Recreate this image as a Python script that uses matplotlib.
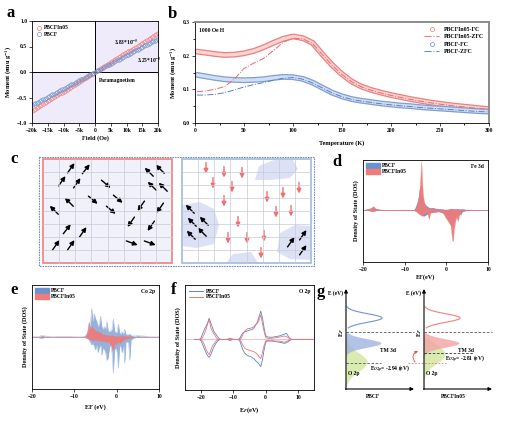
import numpy as np
import matplotlib
matplotlib.use('Agg')
import matplotlib.pyplot as plt
from matplotlib.lines import Line2D
from matplotlib.patches import Patch, Rectangle, Polygon, FancyArrowPatch

plt.rcParams['font.family'] = ['Liberation Serif', 'DejaVu Serif']
plt.rcParams['font.weight'] = 'bold'
plt.rcParams['axes.labelweight'] = 'bold'
plt.rcParams['mathtext.fontset'] = 'stix'
plt.rcParams['xtick.labelsize'] = 4
plt.rcParams['ytick.labelsize'] = 4
plt.rcParams['axes.labelsize'] = 4.5
plt.rcParams['xtick.major.size'] = 2
plt.rcParams['ytick.major.size'] = 2
plt.rcParams['xtick.major.width'] = 0.5
plt.rcParams['ytick.major.width'] = 0.5
plt.rcParams['xtick.minor.size'] = 1.2
plt.rcParams['ytick.minor.size'] = 1.2
plt.rcParams['xtick.major.pad'] = 1.5
plt.rcParams['ytick.major.pad'] = 1.5
plt.rcParams['axes.linewidth'] = 0.6

RED = '#ef7b7b'
BLUE = '#6a92cc'

# ---- a: M-H loops (linear, paramagnetic) ----
field = np.arange(-20000, 20001, 500)
chi_in05 = 3.83e-5
chi_pbcf = 3.25e-5

# ---- b: ZFC/FC curves ----
temp = [2, 10, 20, 30, 40, 50, 60, 70, 80, 90, 100, 110, 120, 130, 140, 150, 160,
        170, 180, 190, 200, 210, 220, 230, 240, 250, 260, 270, 280, 290, 300]
in05_fc = [0.212, 0.209, 0.205, 0.202, 0.203, 0.207, 0.214, 0.225, 0.238, 0.250, 0.257,
           0.252, 0.238, 0.204, 0.172, 0.145, 0.123, 0.108, 0.098, 0.090, 0.083, 0.077,
           0.071, 0.066, 0.061, 0.057, 0.053, 0.050, 0.047, 0.044, 0.041]
in05_zfc = [0.093, 0.095, 0.100, 0.108, 0.130, 0.162, 0.178, 0.192, 0.215, 0.240, 0.252,
            0.250, 0.236, 0.203, 0.171, 0.144, 0.122, 0.107, 0.097, 0.089, 0.082, 0.076,
            0.070, 0.065, 0.060, 0.056, 0.052, 0.049, 0.046, 0.043, 0.040]
pbcf_fc = [0.143, 0.139, 0.134, 0.130, 0.128, 0.127, 0.128, 0.130, 0.134, 0.137, 0.136,
           0.131, 0.120, 0.105, 0.090, 0.079, 0.071, 0.066, 0.062, 0.058, 0.055, 0.052,
           0.050, 0.047, 0.045, 0.043, 0.041, 0.039, 0.037, 0.035, 0.034]
pbcf_zfc = [0.083, 0.083, 0.085, 0.090, 0.098, 0.107, 0.114, 0.120, 0.127, 0.133, 0.135,
            0.130, 0.119, 0.104, 0.089, 0.078, 0.070, 0.065, 0.061, 0.057, 0.054, 0.051,
            0.049, 0.046, 0.044, 0.042, 0.040, 0.038, 0.036, 0.034, 0.033]

# ---- d: Fe 3d PDOS ----
e_fe = [-20, -18.5, -18, -17.5, -17, -16, -14, -10, -8, -7.6, -7.3, -7.0, -6.8, -6.6,
        -6.4, -6.2, -6.0, -5.8, -5.6, -5.4, -5.2, -5.0, -4.6, -4.2, -3.8, -3.4, -3.0,
        -2.6, -2.2, -1.8, -1.4, -1.0, -0.6, -0.2, 0.2, 0.6, 1.0, 1.2, 1.4, 1.6, 1.8,
        2.0, 2.2, 2.4, 2.6, 2.8, 3.0, 3.2, 3.4, 3.6, 3.8, 4.0, 4.5, 5, 6, 7, 10]
fe_pbcf_up = [0, 0.02, 0.03, 0.04, 0.02, 0.01, 0, 0, 0, 0.02, 0.08, 0.15, 0.20, 0.30,
              0.42, 0.47, 0.35, 0.25, 0.20, 0.15, 0.12, 0.10, 0.07, 0.05, 0.04, 0.05, 0.04,
              0.03, 0.03, 0.02, 0.02, 0.02, 0.01, 0.01, 0.01, 0.01, 0.02, 0.02, 0.03, 0.02,
              0.02, 0.02, 0.02, 0.02, 0.03, 0.02, 0.02, 0.02, 0.02, 0.02, 0.02, 0.02, 0.01,
              0.01, 0.01, 0, 0]
fe_pbcf_dn = [0, -0.01, -0.02, -0.02, -0.01, 0, 0, 0, 0, -0.01, -0.02, -0.03, -0.04, -0.06,
              -0.07, -0.08, -0.09, -0.10, -0.11, -0.12, -0.11, -0.10, -0.08, -0.06, -0.05,
              -0.05, -0.04, -0.04, -0.03, -0.03, -0.03, -0.05, -0.08, -0.12, -0.16, -0.20,
              -0.28, -0.32, -0.30, -0.22, -0.18, -0.15, -0.12, -0.10, -0.12, -0.10, -0.08,
              -0.06, -0.10, -0.06, -0.03, -0.02, -0.01, -0.01, -0.005, 0, 0]
fe_in05_up = [0, 0.03, 0.05, 0.08, 0.03, 0.01, 0, 0.01, 0, 0.01, 0.05, 0.12, 0.20, 0.30,
              0.45, 0.70, 0.98, 0.55, 0.30, 0.18, 0.12, 0.08, 0.05, 0.04, 0.03, 0.04, 0.03,
              0.02, 0.02, 0.02, 0.01, 0.01, 0.01, 0.01, 0.01, 0.02, 0.03, 0.02, 0.03, 0.02,
              0.02, 0.02, 0.01, 0.02, 0.02, 0.01, 0.01, 0.01, 0.01, 0.01, 0.01, 0.01, 0.01,
              0, 0, 0, 0]
fe_in05_dn = [0, -0.01, -0.02, -0.02, -0.01, 0, 0, 0, 0, -0.01, -0.02, -0.05, -0.06, -0.08,
              -0.09, -0.10, -0.11, -0.12, -0.10, -0.08, -0.07, -0.06, -0.05, -0.18, -0.05,
              -0.04, -0.04, -0.03, -0.03, -0.03, -0.04, -0.05, -0.08, -0.15, -0.20, -0.25,
              -0.30, -0.45, -0.60, -0.62, -0.40, -0.30, -0.20, -0.15, -0.18, -0.22, -0.12,
              -0.08, -0.05, -0.04, -0.03, -0.02, -0.01, 0, 0, 0, 0]

# ---- e: Co 2p PDOS ----
e_co = [-20, -18.5, -18, -17.5, -17, -15.5, -15, -12, -10, -8, -7.4, -7.0, -6.6, -6.2,
        -5.9, -5.6, -5.3, -5.0, -4.7, -4.4, -4.1, -3.8, -3.5, -3.2, -2.9, -2.6, -2.3,
        -2.0, -1.7, -1.4, -1.1, -0.8, -0.5, -0.2, 0.1, 0.4, 0.7, 1.0, 1.3, 1.6, 1.9,
        2.2, 2.5, 2.8, 3.1, 3.4, 3.7, 4.0, 4.5, 5.0, 5.5, 6.0, 6.5, 7.0, 7.5, 8, 10]
co_pbcf_up = [0, 0.01, 0.02, 0.03, 0.02, 0.01, 0, 0.01, 0, 0, 0.02, 0.05, 0.12, 0.25,
              0.55, 0.30, 0.45, 0.35, 0.30, 0.20, 0.25, 0.40, 0.20, 0.15, 0.20, 0.15,
              0.30, 0.12, 0.10, 0.12, 0.15, 0.35, 0.12, 0.08, 0.10, 0.25, 0.08, 0.06,
              0.10, 0.05, 0.15, 0.05, 0.04, 0.05, 0.06, 0.03, 0.03, 0.02, 0.02, 0.03,
              0.02, 0.02, 0.02, 0.01, 0, 0, 0]
co_pbcf_dn = [0, -0.01, -0.02, -0.02, -0.01, -0.01, 0, 0, 0, 0, -0.01, -0.02, -0.05, -0.10,
              -0.15, -0.12, -0.18, -0.25, -0.15, -0.30, -0.20, -0.15, -0.35, -0.20, -0.25,
              -0.30, -0.45, -0.40, -0.20, -0.15, -0.30, -0.70, -0.25, -0.20, -0.30, -0.60,
              -0.15, -0.20, -0.30, -0.15, -0.50, -0.08, -0.10, -0.10, -0.45, -0.05, -0.04,
              -0.02, -0.01, -0.01, -0.01, -0.01, -0.01, 0, 0, 0, 0]
co_in05_up = [0, 0, 0.01, 0.01, 0, 0, 0, 0, 0, 0, 0.02, 0.10, 0.30, 0.15, 0.20, 0.18,
              0.15, 0.12, 0.10, 0.12, 0.08, 0.10, 0.06, 0.05, 0.05, 0.04, 0.04, 0.04,
              0.03, 0.03, 0.03, 0.03, 0.02, 0.02, 0.02, 0.02, 0.02, 0.02, 0.02, 0.02,
              0.02, 0.02, 0.01, 0.01, 0.01, 0.01, 0, 0, 0, 0, 0, 0, 0, 0, 0, 0, 0]
co_in05_dn = [0, 0, -0.01, -0.01, 0, 0, 0, 0, 0, 0, -0.01, -0.02, -0.03, -0.05, -0.05,
              -0.06, -0.06, -0.06, -0.06, -0.06, -0.07, -0.07, -0.07, -0.08, -0.08, -0.09,
              -0.10, -0.08, -0.12, -0.15, -0.20, -0.25, -0.12, -0.15, -0.10, -0.08, -0.12,
              -0.10, -0.08, -0.06, -0.04, -0.03, -0.03, -0.02, -0.02, -0.01, -0.01, 0, 0,
              0, 0, 0, 0, 0, 0, 0, 0]

# ---- f: O 2p PDOS ----
e_o = [-22, -20.5, -20, -19.5, -19, -18.5, -18, -17.5, -17, -16.5, -16, -15.5, -15, -14.5,
       -14, -12, -11.3, -11, -10.7, -10, -8.5, -8, -7.5, -7, -6.5, -6, -5.5, -5, -4.5, -4,
       -3.5, -3, -2.5, -2, -1.5, -1, -0.5, 0, 0.5, 1, 2, 3, 4, 5, 5.5, 6, 6.5, 7, 7.5, 8, 15]
o_pbcf_up = [0, 0, 0.03, 0.11, 0.18, 0.24, 0.30, 0.39, 0.30, 0.22, 0.14, 0.10, 0.06, 0.02,
             0, 0, 0.01, 0.02, 0.01, 0, 0, 0.02, 0.08, 0.12, 0.14, 0.15, 0.16, 0.17, 0.18,
             0.19, 0.22, 0.27, 0.33, 0.42, 0.52, 0.40, 0.22, 0.07, 0.05, 0.04, 0.04, 0.05,
             0.06, 0.08, 0.09, 0.10, 0.11, 0.06, 0.02, 0, 0]
o_pbcf_dn = [0, 0, -0.03, -0.10, -0.17, -0.24, -0.30, -0.33, -0.28, -0.20, -0.13, -0.08,
             -0.04, -0.01, 0, 0, -0.01, -0.02, -0.01, 0, 0, -0.03, -0.12, -0.20, -0.25, -0.28,
             -0.30, -0.31, -0.32, -0.34, -0.36, -0.40, -0.42, -0.46, -0.50, -0.38, -0.20,
             -0.06, -0.03, -0.03, -0.03, -0.04, -0.05, -0.06, -0.07, -0.07, -0.06, -0.04,
             -0.02, 0, 0]
o_in05_up = [0, 0, 0, 0.04, 0.10, 0.18, 0.28, 0.37, 0.22, 0.15, 0.10, 0.05, 0.01, 0, 0, 0,
             0.01, 0.02, 0.01, 0, 0, 0, 0.03, 0.10, 0.15, 0.18, 0.20, 0.20, 0.21, 0.22,
             0.24, 0.28, 0.30, 0.36, 0.45, 0.30, 0.15, 0.04, 0.02, 0.02, 0.02, 0.03, 0.04,
             0.05, 0.06, 0.06, 0.05, 0.03, 0.01, 0, 0]
o_in05_dn = [0, 0, 0, -0.04, -0.10, -0.18, -0.24, -0.28, -0.20, -0.12, -0.08, -0.04, -0.01,
             0, 0, 0, -0.01, -0.02, -0.01, 0, 0, 0, -0.05, -0.12, -0.16, -0.18, -0.19, -0.20,
             -0.21, -0.22, -0.23, -0.25, -0.28, -0.32, -0.35, -0.25, -0.12, -0.03, -0.02,
             -0.02, -0.02, -0.03, -0.03, -0.04, -0.05, -0.05, -0.04, -0.02, -0.01, 0, 0]

# ---- c: spin sketch (pixel layout) ----
left_arrows = [(71, 168, 55), (86, 169, 52), (62, 181, 55), (77, 183, 55), (106, 184, -40),
               (149, 172, 135), (160, 169, 135), (152, 186, 135), (163, 187, 135),
               (69, 202, 135), (93, 200, -40), (118, 199, -40), (54, 210, 135),
               (111, 210, -40), (141, 206, -125), (160, 208, -125), (131, 222, -125),
               (151, 226, -125), (67, 229, 52), (83, 232, 55), (56, 245, 55), (71, 245, 55),
               (132, 243, -20), (150, 243, -20)]
red_arrows = [(206, 168), (224, 172), (242, 173), (213, 183), (232, 187), (224, 201),
              (267, 197), (283, 193), (299, 188), (276, 212), (291, 211), (238, 222),
              (228, 238), (247, 238), (264, 236), (261, 253)]
right_black = [(190, 209, 135), (192, 222, 135), (204, 221, 135), (191, 235, 135),
               (202, 232, 135), (291, 242, 55), (303, 235, 55), (303, 250, 55)]
blobs = [[(255, 180), (259, 166), (274, 160), (293, 160), (298, 169), (290, 178), (270, 180)],
         [(182, 205), (200, 202), (214, 209), (219, 225), (214, 244), (196, 248), (182, 246)],
         [(226, 263), (233, 254), (251, 252), (258, 263)],
         [(277, 252), (280, 233), (295, 225), (311, 226), (311, 260), (290, 259)]]

W, H = 530, 424
fig = plt.figure(figsize=(W / 100, H / 100), dpi=100)


def px_axes(l, t, r, b):
    return fig.add_axes([l / W, 1 - b / H, (r - l) / W, (b - t) / H])


# ================= a =================
ax = px_axes(32, 21, 158, 123)
ax.fill_between([0, 20000], 0, 1, color='#f0ebfa', lw=0, zorder=0)
ax.fill_between([-20000, 0], -1, 0, color='#f0ebfa', lw=0, zorder=0)
ax.axhline(0, color='k', lw=0.7, zorder=1)
ax.axvline(0, color='k', lw=0.7, zorder=1)
ax.plot(field, chi_in05 * field, 'o', mfc='none', mec=RED, ms=2.6, mew=0.4, zorder=2)
ax.plot(field, chi_pbcf * field, 'o', mfc='none', mec=BLUE, ms=2.6, mew=0.4, zorder=2)
ax.set_xlim(-20000, 20000)
ax.set_ylim(-1, 1)
ax.set_xticks(range(-20000, 20001, 5000))
ax.set_xticklabels(['−20k', '−15k', '−10k', '−5k', '0', '5k', '10k', '15k', '20k'])
ax.set_yticks([-1, -0.5, 0, 0.5, 1])
ax.set_yticklabels(['−1.0', '−0.5', '0.0', '0.5', '1.0'])
ax.set_xlabel('Field (Oe)', labelpad=2)
ax.set_ylabel('Moment (emu g$^{-1}$)', labelpad=2)
ax.text(6000, 0.59, '3.83*10$^{-5}$', fontsize=4, va='center')
ax.text(13300, 0.24, '3.25*10$^{-5}$', fontsize=4, va='center')
ax.text(1300, -0.16, 'Paramagnetism', fontsize=4, va='center')
ax.legend([Line2D([], [], marker='o', ls='none', mfc='none', mec=RED, ms=3, mew=0.5),
           Line2D([], [], marker='o', ls='none', mfc='none', mec=BLUE, ms=3, mew=0.5)],
          ['PBCFIn05', 'PBCF'], loc='upper left', frameon=False, fontsize=4,
          handlelength=1, handletextpad=0.3, labelspacing=0.3, borderaxespad=0.4)

# ================= b =================
ax = px_axes(195, 22, 489, 123)
ax.plot(temp, in05_fc, color='#e98080', lw=4.2, solid_capstyle='round')
ax.plot(temp, in05_fc, color='#fbd3d3', lw=2.4, solid_capstyle='round')
ax.plot(temp, pbcf_fc, color='#7d9fd2', lw=4.2, solid_capstyle='round')
ax.plot(temp, pbcf_fc, color='#d3def2', lw=2.4, solid_capstyle='round')
ax.plot(temp, in05_zfc, color='#e86a6a', lw=0.7, ls='-.')
ax.plot(temp, pbcf_zfc, color='#5a80c0', lw=0.7, ls='-.')
ax.set_xlim(0, 300)
ax.set_ylim(0, 0.3)
ax.set_xticks(range(0, 301, 50))
ax.set_xticks(range(25, 300, 50), minor=True)
ax.set_yticks([0, 0.1, 0.2, 0.3])
ax.set_yticks([0.05, 0.15, 0.25], minor=True)
ax.set_yticklabels(['0.0', '0.1', '0.2', '0.3'])
ax.set_xlabel('Temperature (K)', labelpad=5)
ax.set_ylabel('Moment (emu g$^{-1}$)', labelpad=3)
for s in ['top', 'right']:
    ax.spines[s].set_color('#8c8c8c')
    ax.spines[s].set_linewidth(1.4)
ax.text(0.015, 0.94, '1000 Oe H', transform=ax.transAxes, fontsize=4, va='top')
ax.legend([Line2D([], [], marker='o', ls='none', mfc='none', mec=RED, ms=3, mew=0.5),
           Line2D([], [], color=RED, lw=0.8, ls='-.'),
           Line2D([], [], marker='o', ls='none', mfc='none', mec=BLUE, ms=3, mew=0.5),
           Line2D([], [], color=BLUE, lw=0.8, ls='-.')],
          ['PBCFIn05-FC', 'PBCFIn05-ZFC', 'PBCF-FC', 'PBCF-ZFC'], loc='upper right',
          frameon=False, fontsize=4.2, handlelength=2.5, labelspacing=0.35,
          borderaxespad=0.5)

# ================= d =================
ax = px_axes(363, 160, 488, 262)
ax.axhline(0, color='#f6c2c2', lw=0.6, zorder=0)
ax.fill_between(e_fe, fe_pbcf_up, 0, color=BLUE, lw=0.2)
ax.fill_between(e_fe, fe_pbcf_dn, 0, color=BLUE, lw=0.2)
ax.fill_between(e_fe, fe_in05_up, 0, color=RED, lw=0.2, alpha=0.95)
ax.fill_between(e_fe, fe_in05_dn, 0, color=RED, lw=0.2, alpha=0.95)
ax.set_xlim(-20, 10)
ax.set_ylim(-1.04, 1.0)
ax.set_xticks([-20, -10, 0, 10])
ax.set_xticklabels(['−20', '−10', '0', '10'])
ax.set_yticks([])
ax.set_xlabel('EF(eV)', labelpad=2)
ax.set_ylabel('Density of State (DOS)', labelpad=3)
ax.text(0.97, 0.96, 'Fe 3d', transform=ax.transAxes, fontsize=4, ha='right', va='top')
ax.legend([Patch(color=BLUE), Patch(color=RED)], ['PBCF', 'PBCFIn05'], loc='upper left',
          frameon=False, fontsize=4, handlelength=2.6, handleheight=1.1,
          labelspacing=0.1, borderaxespad=0.1, handletextpad=0.4)

# ================= e =================
ax = px_axes(32, 285, 159, 389)
ax.axhline(0, color='#f6c2c2', lw=0.6, zorder=0)
ax.fill_between(e_co, co_pbcf_up, 0, color=BLUE, lw=0, alpha=0.7)
ax.fill_between(e_co, co_pbcf_dn, 0, color=BLUE, lw=0, alpha=0.7)
ax.plot(e_co, co_pbcf_up, color='#9db7e0', lw=0.3)
ax.plot(e_co, co_pbcf_dn, color='#9db7e0', lw=0.3)
ax.fill_between(e_co, co_in05_up, 0, color=RED, lw=0.2, alpha=0.95)
ax.fill_between(e_co, co_in05_dn, 0, color=RED, lw=0.2, alpha=0.95)
ax.set_xlim(-20, 10)
ax.set_ylim(-1, 1)
ax.set_xticks([-20, -10, 0, 10])
ax.set_xticklabels(['−20', '−10', '0', '10'])
ax.set_yticks([])
ax.set_xlabel('EF (eV)', labelpad=4)
ax.set_ylabel('Density of State (DOS)', labelpad=3)
ax.text(0.97, 0.96, 'Co 2p', transform=ax.transAxes, fontsize=4, ha='right', va='top')
ax.legend([Patch(color=BLUE), Patch(color=RED)], ['PBCF', 'PBCFIn05'], loc='upper left',
          frameon=False, fontsize=4, handlelength=2.6, handleheight=1.1,
          labelspacing=0.1, borderaxespad=0.1, handletextpad=0.4)

# ================= f =================
ax = px_axes(185, 285, 314, 390)
ax.axhline(0, color='#f6b6b6', lw=0.6, zorder=0)
ax.plot(e_o, o_pbcf_up, color='#5d84c2', lw=0.6)
ax.plot(e_o, o_pbcf_dn, color='#5d84c2', lw=0.6)
ax.plot(e_o, o_in05_up, color='#f07474', lw=0.6)
ax.plot(e_o, o_in05_dn, color='#f07474', lw=0.6)
ax.set_xlim(-25, 15)
ax.set_ylim(-0.93, 1.0)
ax.set_xticks([-20, -10, 0, 10])
ax.set_xticklabels(['−20', '−10', '0', '10'])
ax.set_yticks([])
ax.set_xlabel('E$_F$(eV)', labelpad=4)
ax.set_ylabel('Density of State (DOS)', labelpad=3)
ax.text(0.97, 0.96, 'O 2p', transform=ax.transAxes, fontsize=4, ha='right', va='top')
ax.legend([Line2D([], [], color='#5d84c2', lw=0.7), Line2D([], [], color='#f07474', lw=0.7)],
          ['PBCF', 'PBCFIn05'], loc='upper left', frameon=False, fontsize=4,
          handlelength=2.6, labelspacing=0.1, borderaxespad=0.3, handletextpad=0.4)

# ================= overlay: c, g, letters =================
ov = fig.add_axes([0, 0, 1, 1])
ov.set_xlim(0, W)
ov.set_ylim(H, 0)
ov.set_axis_off()

# c boxes and grids
ov.add_patch(Rectangle((39, 157), 275, 109, fill=False, ec='#6f8fc4', lw=0.8, ls=(0, (1.5, 0.8))))
ov.add_patch(Rectangle((43, 159), 129, 104, fc='#f1f1fc', ec='none'))
for pts in blobs:
    ov.add_patch(Polygon(pts, closed=True, fc='#dde1f6', ec='none'))
for x0 in (43, 182):
    for i in range(1, 8):
        ov.plot([x0 + i * 129 / 8] * 2, [159, 263], color='#c9c9d6', lw=0.5)
        ov.plot([x0, x0 + 129], [159 + i * 13] * 2, color='#c9c9d6', lw=0.5)
ov.add_patch(Rectangle((43, 159), 129, 104, fill=False, ec='#ee8a8a', lw=1.3))
ov.add_patch(Rectangle((182, 159), 129, 104, fill=False, ec='#a9bfde', lw=1.3))


def spin(x, y, ang, color, L=12):
    dx = np.cos(np.radians(ang)) * L / 2
    dy = -np.sin(np.radians(ang)) * L / 2
    ov.add_patch(FancyArrowPatch((x - dx, y - dy), (x + dx, y + dy), arrowstyle='-|>',
                                 mutation_scale=6.5, lw=1.0, color=color,
                                 shrinkA=0, shrinkB=0))


for x, y, a in left_arrows + right_black:
    spin(x, y, a, 'k')
for x, y in red_arrows:
    spin(x, y, -90, '#ef7070', L=11)

# g schematic
ys = np.linspace(0, 1, 60)
for x0, col, fill_col, lab, xlab in [
        (346, '#6f96d2', '#9fb4e2', 'PBCF', 373),
        (424, '#f08080', '#f3a3a3', 'PBCFIn05', 453)]:
    # conduction band outline
    yy = 307 + ys * 21
    ov.plot(x0 + 36 * np.exp(-((yy - 318) / 6.0) ** 2), yy, color=col, lw=0.8)
    # O 2p band
    oc = 362 if x0 == 346 else 354
    yy = 338 + ys * 49
    ov.fill_betweenx(yy, x0, x0 + 21 * np.exp(-((yy - oc) / 13.0) ** 2), color='#d6e9a6', lw=0, alpha=0.9)
    # TM 3d band
    yy = 333 + ys * 24
    ov.fill_betweenx(yy, x0, x0 + 35 * np.exp(-((yy - 343) / 6.0) ** 2), color=fill_col, lw=0, alpha=0.8)
    # axes
    ov.annotate('', xy=(x0, 289), xytext=(x0, 389.5),
                arrowprops=dict(arrowstyle='-|>', lw=0.8, color='k', mutation_scale=5,
                                shrinkA=0, shrinkB=0))
    ov.annotate('', xy=(x0 + 68, 389), xytext=(x0 - 0.5, 389),
                arrowprops=dict(arrowstyle='-|>', lw=0.8, color='k', mutation_scale=5,
                                shrinkA=0, shrinkB=0))
    ov.plot([x0, x0 + 68], [332, 332], color='#555555', lw=0.6, ls=(0, (3, 2)))
    ov.text(x0 - 4, 332, 'E$_F$', fontsize=4.5, rotation=90, ha='center', va='center')
    ov.text(x0 - 10, 293, 'E (eV)', fontsize=4, ha='center', va='center')
    ov.text(xlab, 396, lab, fontsize=4, ha='center', va='center')
    ov.text(x0 + 2, 374, 'O 2p', fontsize=4, ha='left', va='center')
    ov.text(x0 + 34, 350, 'TM 3d', fontsize=4, ha='left', va='center')

ov.plot([346, 381], [363, 363], color='#555555', lw=0.6, ls=(0, (3, 2)))
ov.text(370, 369, 'E$_{O2p}$= -2.94 (eV)', fontsize=4, ha='left', va='center')
ov.plot([424, 474], [353, 353], color='#333333', lw=0.6, ls=(0, (3, 2)))
ov.plot([408, 446], [363, 363], color='#f07070', lw=0.6, ls=(0, (2, 2)))
ov.text(445, 359, 'E$_{O2p}$= -2.81 (eV)', fontsize=4, ha='left', va='center')
ov.add_patch(FancyArrowPatch((415, 362), (418, 351), connectionstyle='arc3,rad=-0.6',
                             arrowstyle='-|>', mutation_scale=4, lw=0.6, color='#ee4444',
                             shrinkA=0, shrinkB=0))

# panel letters
for lab, x, y in [('a', 11, 13), ('b', 172, 14), ('c', 14, 159), ('d', 337, 162),
                  ('e', 14, 290), ('f', 174, 290), ('g', 321, 292)]:
    ov.text(x, y, lab, fontsize=12, fontweight='bold', ha='center', va='center')

fig.savefig('out.png', dpi=100)
